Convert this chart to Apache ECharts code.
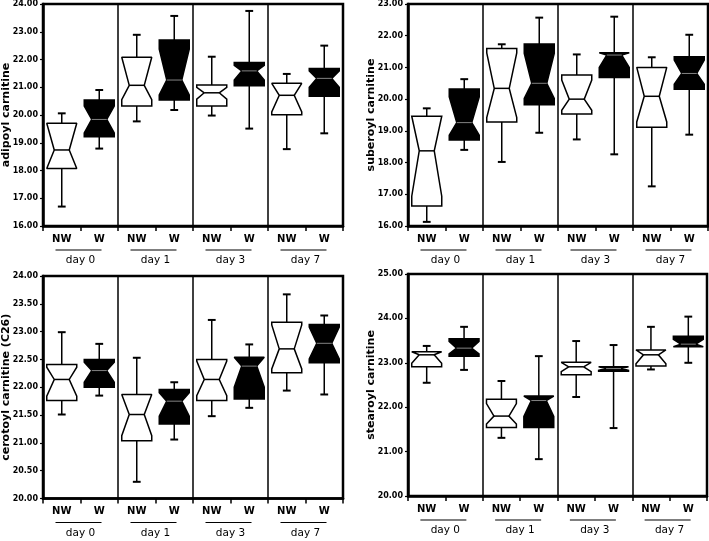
<!DOCTYPE html>
<html>
<head>
<meta charset="utf-8">
<script src="https://cdn.jsdelivr.net/npm/echarts@6/dist/echarts.min.js"></script>
<style>
html,body{margin:0;padding:0;background:#fff;}
#chart{width:709px;height:541px;}
</style>
</head>
<body>
<div id="chart"></div>
<script>
// categories
const groups = ['NW', 'W', 'NW', 'W', 'NW', 'W', 'NW', 'W'];
const days = ['day 0', 'day 1', 'day 3', 'day 7'];
// each row: [min, Q1, notchLow, median, notchHigh, Q3, max]
const adipoyl = [
  [16.70, 18.07, 18.07, 18.74, 19.70, 19.70, 20.06],
  [18.79, 19.22, 19.35, 19.84, 20.32, 20.54, 20.90],
  [19.77, 20.32, 20.55, 21.07, 22.08, 22.08, 22.89],
  [20.18, 20.54, 20.72, 21.26, 22.37, 22.70, 23.57],
  [19.98, 20.32, 20.57, 20.80, 21.00, 21.08, 22.10],
  [19.51, 21.05, 21.26, 21.59, 21.79, 21.89, 23.75],
  [18.77, 20.01, 20.11, 20.71, 21.14, 21.14, 21.48],
  [19.34, 20.68, 21.00, 21.32, 21.59, 21.68, 22.50]
];
const suberoyl = [
  [16.13, 16.63, 16.94, 18.37, 19.46, 19.46, 19.71],
  [18.40, 18.71, 18.86, 19.26, 20.07, 20.32, 20.63],
  [18.02, 19.28, 19.42, 20.34, 21.46, 21.60, 21.73],
  [18.94, 19.82, 20.02, 20.50, 21.44, 21.74, 22.57],
  [18.73, 19.53, 19.65, 20.00, 20.60, 20.76, 21.41],
  [18.26, 20.68, 21.00, 21.39, 21.46, 21.46, 22.60],
  [17.25, 19.11, 19.28, 20.09, 21.00, 21.00, 21.32],
  [18.88, 20.31, 20.47, 20.81, 21.23, 21.34, 22.03]
];
const cerotoyl = [
  [21.51, 21.76, 21.84, 22.14, 22.36, 22.41, 22.99],
  [21.85, 22.00, 22.09, 22.30, 22.45, 22.50, 22.78],
  [20.30, 21.04, 21.13, 21.51, 21.87, 21.87, 22.53],
  [21.06, 21.34, 21.48, 21.75, 21.90, 21.96, 22.09],
  [21.48, 21.76, 21.85, 22.14, 22.47, 22.50, 23.21],
  [21.63, 21.79, 22.00, 22.38, 22.54, 22.54, 22.77],
  [21.94, 22.26, 22.33, 22.69, 23.12, 23.17, 23.67],
  [21.87, 22.44, 22.51, 22.79, 23.08, 23.13, 23.29]
];
const stearoyl = [
  [22.55, 22.91, 22.99, 23.18, 23.25, 23.25, 23.38],
  [22.84, 23.15, 23.20, 23.33, 23.48, 23.54, 23.81],
  [21.31, 21.54, 21.62, 21.80, 22.08, 22.18, 22.59],
  [20.83, 21.54, 21.79, 22.15, 22.25, 22.25, 23.15],
  [22.23, 22.73, 22.80, 22.91, 23.01, 23.01, 23.49],
  [21.53, 22.81, 22.83, 22.87, 22.91, 22.91, 23.40],
  [22.85, 22.93, 22.98, 23.18, 23.29, 23.29, 23.81],
  [23.00, 23.36, 23.36, 23.42, 23.53, 23.60, 24.04]
];
const yNames = ['adipoyl carnitine', 'suberoyl carnitine', 'cerotoyl carnitine (C26)', 'stearoyl carnitine'];
const yMins = [16, 16, 20, 20];
const yMaxs = [24, 23, 24, 25];
const yIntervals = [1, 1, 0.5, 1];
const panels = [adipoyl, suberoyl, cerotoyl, stearoyl];

const FONT = 'DejaVu Sans';
const grids = [
  {left: 43, top: 4, width: 300, height: 222},
  {left: 408, top: 4, width: 300, height: 222},
  {left: 43, top: 276, width: 300, height: 222.5},
  {left: 408, top: 274, width: 299, height: 222}
].map(g => Object.assign(g, {show: true, borderColor: '#000', borderWidth: 2.5, backgroundColor: '#fff',
                              containLabel: false, outerBoundsMode: 'none'}));

function renderBox(params, api) {
  const x = api.value(0);
  const mn = api.value(1), q1 = api.value(2), nLo = api.value(3), md = api.value(4),
        nHi = api.value(5), q3 = api.value(6), mx = api.value(7);
  const band = api.size([1, 0])[0];
  const cx = api.coord([x, md])[0];
  const hw = band * 0.4, nw = hw * 0.5, cw = 3.9;
  const y = v => api.coord([x, v])[1];
  const hi = Math.min(nHi, q3), lo = Math.max(nLo, q1);
  const filled = x % 2 === 1;
  const raw = [
    [cx - hw, y(q3)], [cx - hw, y(hi)], [cx - nw, y(md)], [cx - hw, y(lo)], [cx - hw, y(q1)],
    [cx + hw, y(q1)], [cx + hw, y(lo)], [cx + nw, y(md)], [cx + hw, y(hi)], [cx + hw, y(q3)]
  ];
  const pts = raw.filter((pt, i) => i === 0 || Math.abs(pt[0] - raw[i - 1][0]) > 0.01 || Math.abs(pt[1] - raw[i - 1][1]) > 0.01);
  const ls = {stroke: '#000', lineWidth: 1.5};
  return {
    type: 'group',
    children: [
      {type: 'line', shape: {x1: cx, y1: y(mx), x2: cx, y2: y(q3)}, style: ls},
      {type: 'line', shape: {x1: cx, y1: y(q1), x2: cx, y2: y(mn)}, style: ls},
      {type: 'line', shape: {x1: cx - cw, y1: y(mx), x2: cx + cw, y2: y(mx)}, style: {stroke: '#000', lineWidth: 2}},
      {type: 'line', shape: {x1: cx - cw, y1: y(mn), x2: cx + cw, y2: y(mn)}, style: {stroke: '#000', lineWidth: 2}},
      {type: 'polygon', shape: {points: pts}, style: {fill: filled ? '#000' : '#fff', stroke: '#000', lineWidth: 1.5, lineJoin: 'miter', miterLimit: 1.6}},
      {type: 'line', shape: {x1: cx - nw, y1: y(md), x2: cx + nw, y2: y(md)},
       style: {stroke: filled ? '#bbb' : '#000', lineWidth: filled ? 0.7 : 1.5}}
    ]
  };
}

function renderUnderline(params, api) {
  const i = api.value(0);
  const a = api.coord([i, api.value(1)]);
  const b = api.coord([i + 1, api.value(1)]);
  const c = (a[0] + b[0]) / 2 - 2;
  const yy = params.coordSys.y + params.coordSys.height + 24;
  return {type: 'line', shape: {x1: c - 23, y1: yy, x2: c + 23, y2: yy}, style: {stroke: '#000', lineWidth: 1.2}};
}

const xAxes = [], yAxes = [], series = [];
panels.forEach((rows, p) => {
  xAxes.push({
    type: 'category', gridIndex: p, data: groups, position: 'bottom',
    axisLine: {show: true, lineStyle: {color: '#000', width: 2.5}},
    axisTick: {show: true, length: 5, lineStyle: {color: '#000', width: 1.5}},
    axisLabel: {color: '#000', fontFamily: FONT, fontWeight: 'bold', fontSize: 10, margin: 8},
    splitLine: {show: true, interval: (idx) => idx > 0 && idx % 2 === 0, lineStyle: {color: '#000', width: 1.5}}
  });
  xAxes.push({
    type: 'category', gridIndex: p, data: days, position: 'bottom',
    axisLine: {show: false}, axisTick: {show: false}, splitLine: {show: false},
    axisLabel: {color: '#000', fontFamily: FONT, fontSize: 10.5, margin: 29}
  });
  yAxes.push({
    type: 'value', gridIndex: p, min: yMins[p], max: yMaxs[p], interval: yIntervals[p],
    name: yNames[p], nameLocation: 'middle', nameGap: 31, nameMoveOverlap: false,
    nameTextStyle: {color: '#000', fontFamily: FONT, fontWeight: 'bold', fontSize: 11},
    axisLine: {show: true, lineStyle: {color: '#000', width: 2.5}},
    axisTick: {show: true, length: 3, lineStyle: {color: '#000', width: 1.2}},
    axisLabel: {color: '#000', fontFamily: FONT, fontWeight: 'bold', fontSize: 8, margin: 5,
                formatter: v => v.toFixed(2)},
    splitLine: {show: false}
  });
  series.push({
    type: 'custom', xAxisIndex: 2 * p, yAxisIndex: p, clip: false,
    renderItem: renderBox,
    encode: {x: 0, y: [1, 2, 3, 4, 5, 6, 7]},
    data: rows.map((r, i) => [i].concat(r)),
    silent: true
  });
  series.push({
    type: 'custom', xAxisIndex: 2 * p, yAxisIndex: p, clip: false,
    renderItem: renderUnderline,
    encode: {x: 0, y: 1},
    data: days.map((d, i) => [2 * i, yMins[p]]),
    silent: true
  });
});

const chart = echarts.init(document.getElementById('chart'), null, {renderer: 'canvas'});
chart.setOption({
  animation: false,
  backgroundColor: '#fff',
  grid: grids,
  xAxis: xAxes,
  yAxis: yAxes,
  series: series
});
</script>
</body>
</html>
